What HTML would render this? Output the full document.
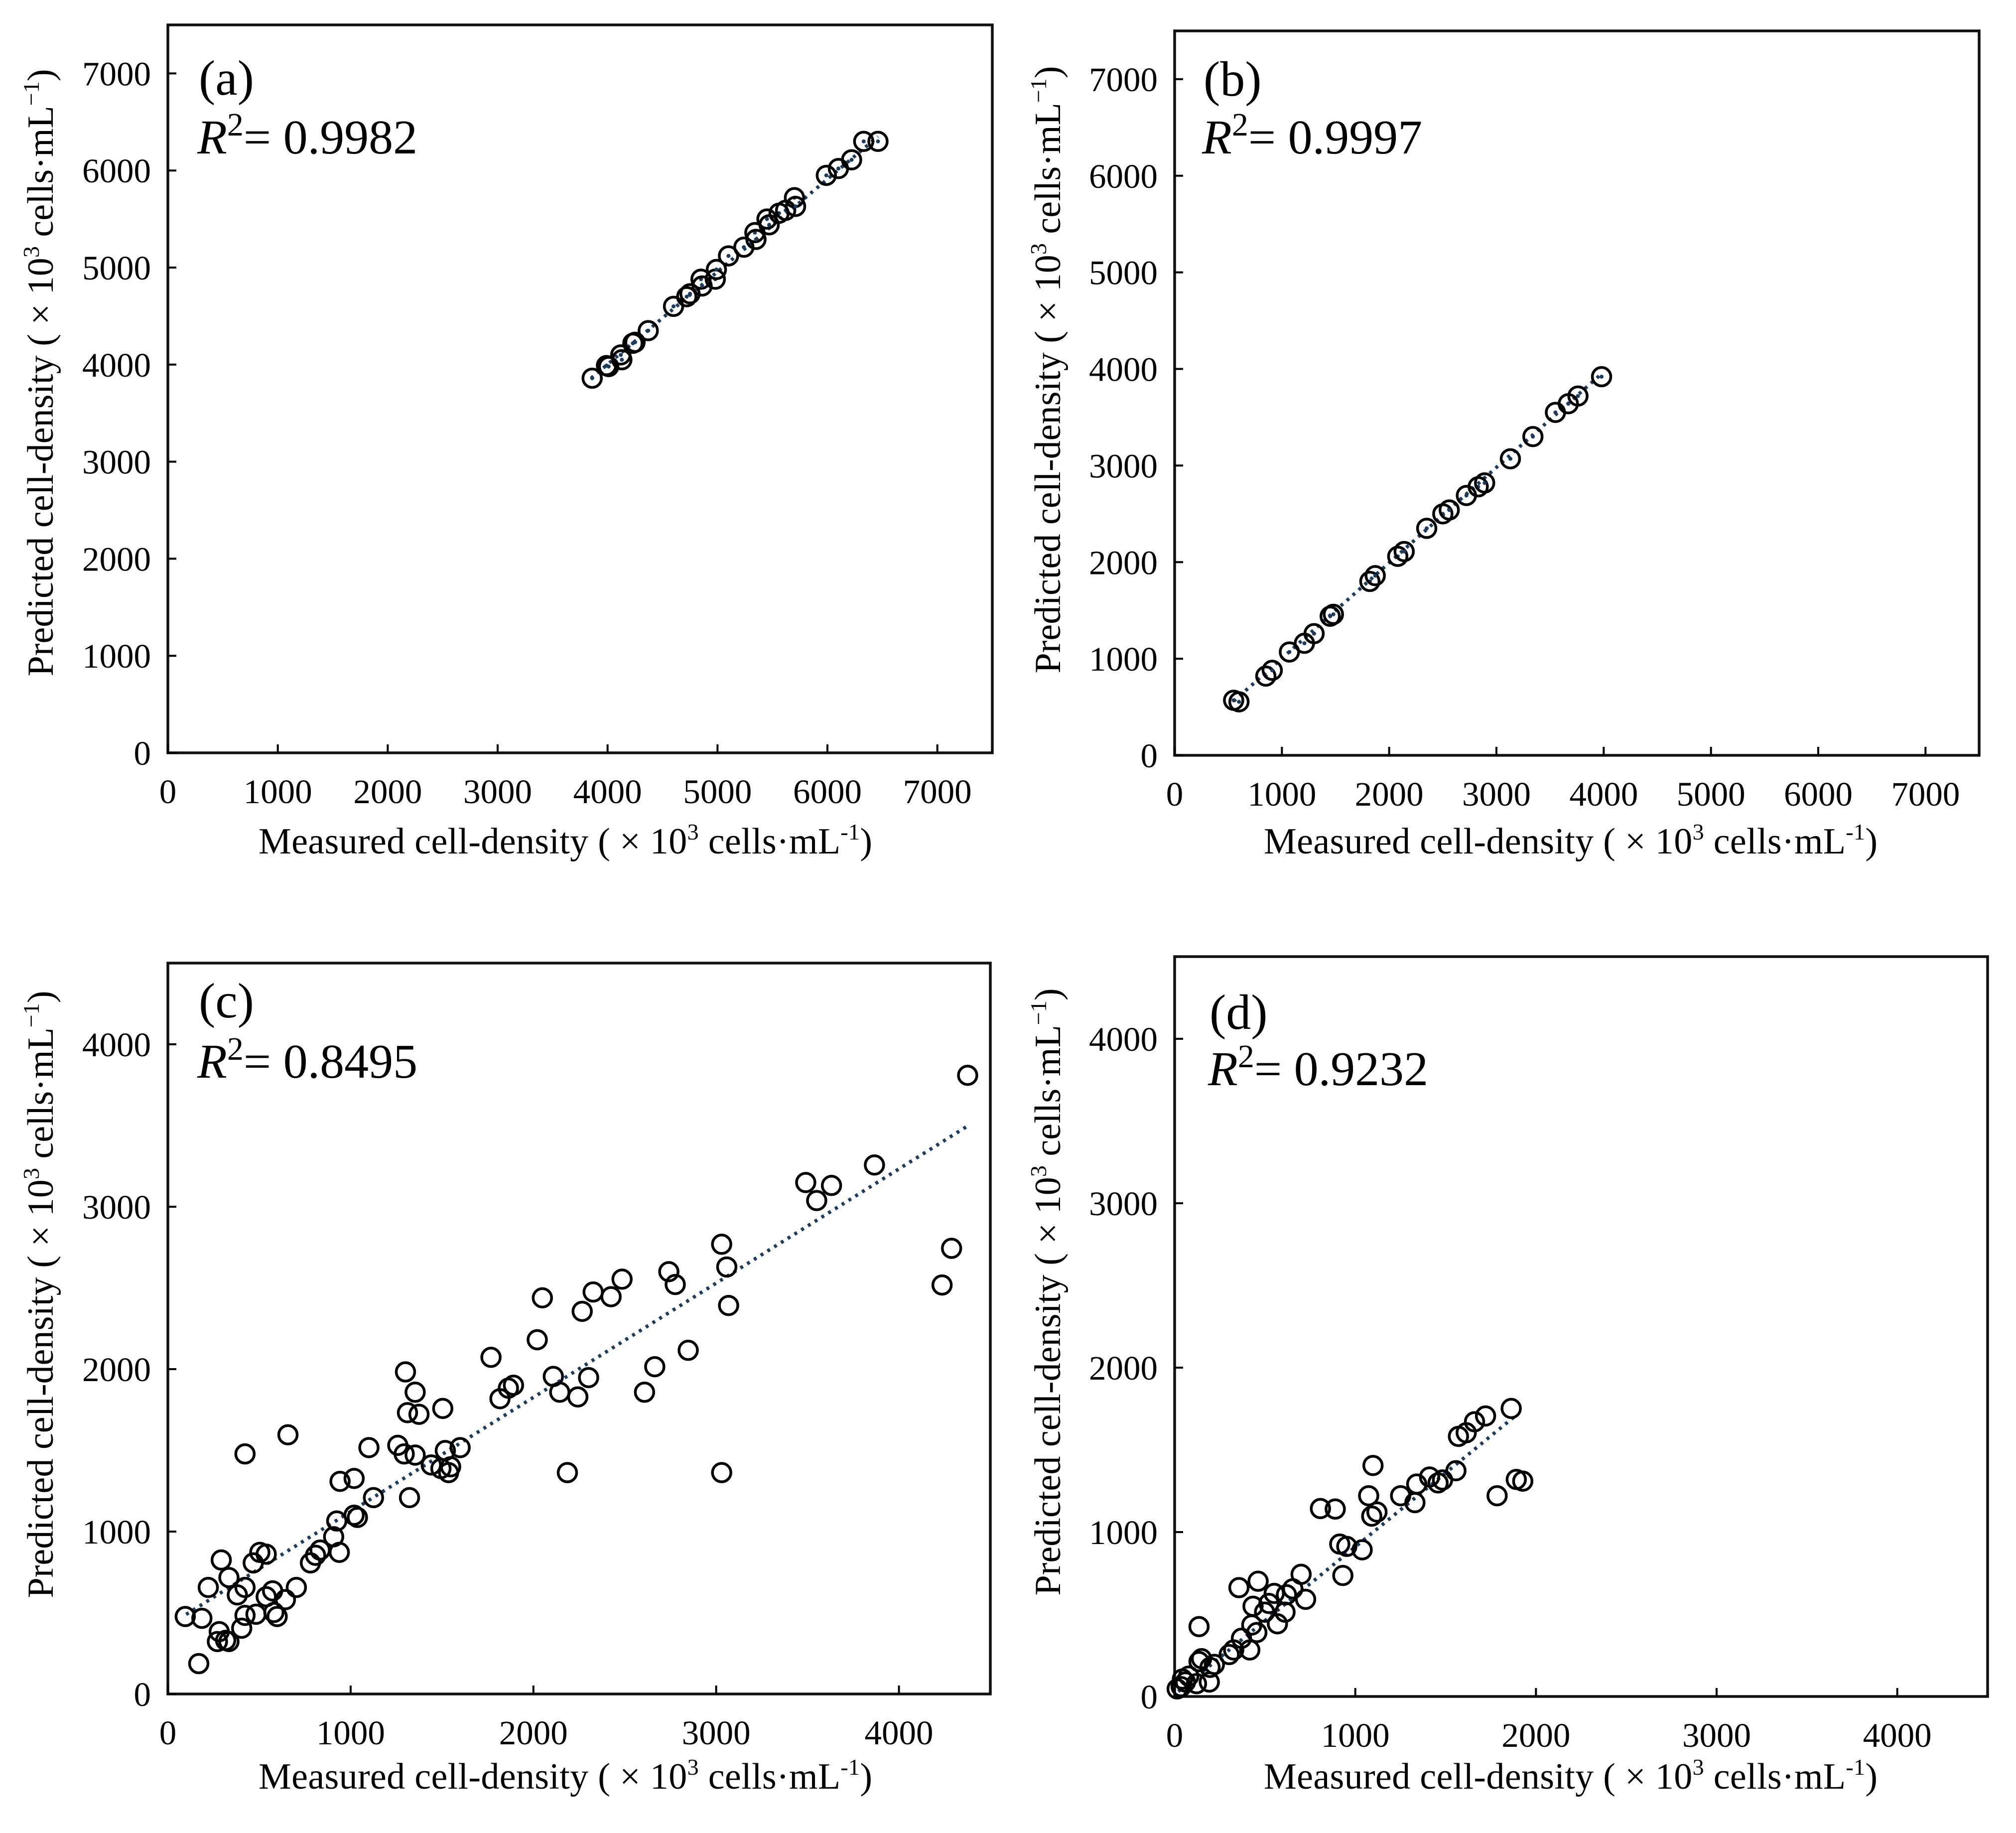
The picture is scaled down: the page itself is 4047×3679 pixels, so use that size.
<!DOCTYPE html>
<html><head><meta charset="utf-8">
<style>
html,body{margin:0;padding:0;background:#fff;}
svg{display:block;}
text{font-family:"Liberation Serif","Noto Serif CJK SC",serif;fill:#000;}
</style></head>
<body>
<svg id="fig" width="4047" height="3679" viewBox="0 0 4047 3679" xmlns="http://www.w3.org/2000/svg"></svg>
<script>
// ---------- data ----------
const aMeasured = [3860,3990,4010,4120,4130,4230,4250,4370,4600,4720,4750,4850,4860,4980,4990,5100,5240,5340,5350,5450,5470,5560,5620,5700,5710,5990,6100,6220,6330,6460];
const aPredicted = [3860,3990,3980,4100,4050,4220,4230,4350,4600,4700,4730,4880,4810,4880,4980,5120,5210,5360,5290,5500,5440,5560,5590,5720,5630,5950,6020,6110,6300,6300];
const aTrendX = [3850,6460];
const aTrendY = [3860,6350];

const bMeasured = [550,600,850,910,1070,1210,1300,1450,1480,1820,1870,2080,2140,2350,2500,2560,2720,2830,2890,3130,3340,3550,3670,3760,3980];
const bPredicted = [570,554,820,880,1070,1160,1260,1440,1460,1800,1860,2060,2110,2350,2500,2540,2690,2780,2820,3070,3300,3550,3640,3720,3920];
const bTrendX = [550,3980];
const bTrendY = [560,3950];

const cMeasured = [95,186,169,221,281,271,292,316,334,334,380,404,422,422,422,482,467,503,538,538,573,580,598,643,657,703,780,808,833,907,924,938,942,1019,1019,1037,1100,1125,1258,1293,1300,1311,1322,1353,1353,1374,1441,1494,1504,1518,1536,1547,1599,1768,1817,1863,1891,2021,2049,2109,2144,2186,2243,2267,2302,2327,2425,2485,2608,2664,2741,2776,2847,3030,3030,3058,3068,3490,3550,3631,3866,4236,4288,4376];
const cPredicted = [477,466,187,656,384,323,825,330,323,717,610,405,656,484,1478,491,807,872,861,599,635,502,477,581,1596,656,807,854,886,968,1065,872,1309,1327,1101,1087,1517,1209,1531,1478,1983,1732,1209,1471,1858,1722,1410,1388,1758,1499,1363,1399,1517,2073,1818,1883,1901,2181,2439,1955,1858,1363,1829,2356,1948,2475,2446,2554,1858,2015,2600,2521,2116,2769,1363,2629,2392,3149,3038,3131,3257,2518,2744,3809];
const cTrendX = [100,4380];
const cTrendY = [490,3500];

const dMeasured = [14,36,43,60,78,121,135,135,149,192,196,220,302,327,356,370,416,427,434,455,462,498,522,551,569,611,619,654,700,725,914,931,953,1038,807,889,1074,1098,1091,1120,1251,1330,1340,1411,1458,1483,1557,1571,1614,1660,1721,1785,1863,1891,1927];
const dPredicted = [46,60,106,88,124,78,425,212,230,88,177,195,255,283,662,354,283,435,549,389,701,513,566,627,442,513,619,655,743,591,927,736,913,892,1143,1140,1221,1405,1097,1122,1221,1179,1292,1335,1299,1317,1373,1582,1604,1671,1706,1221,1752,1320,1310];
const dTrendX = [20,1890];
const dTrendY = [30,1710];

const ticks7500 = [0,1000,2000,3000,4000,5000,6000,7000];
const ticks4500 = [0,1000,2000,3000,4000];

// ---------- drawing ----------
const NS = "http://www.w3.org/2000/svg";
const svg = document.getElementById("fig");
function mk(tag, attrs, parent){
  const e = document.createElementNS(NS, tag);
  for (const k in attrs) e.setAttribute(k, attrs[k]);
  (parent||svg).appendChild(e);
  return e;
}

const panels = [
  {id:"a", L:337, R:1992, T:50, B:1511, max:7500, ticks:ticks7500, xs:aMeasured, ys:aPredicted, tx:aTrendX, ty:aTrendY, r2:"0.9982", labY:190, r2Y:308, labX:399, yTitleX:106, yTitleC:748, xTitleY:1713, xTitleL:519, dots:true},
  {id:"b", L:2358, R:3973, T:62, B:1516, max:7500, ticks:ticks7500, xs:bMeasured, ys:bPredicted, tx:bTrendX, ty:bTrendY, r2:"0.9997", labY:192, r2Y:308, labX:2416, yTitleX:2128, yTitleC:742, xTitleY:1713, xTitleL:2537, dots:true},
  {id:"c", L:337, R:1988, T:1933, B:3400, max:4500, ticks:ticks4500, xs:cMeasured, ys:cPredicted, tx:cTrendX, ty:cTrendY, r2:"0.8495", labY:2042, r2Y:2163, labX:399, yTitleX:106, yTitleC:2598, xTitleY:3590, xTitleL:519, dots:false},
  {id:"d", L:2358, R:3990, T:1920, B:3405, max:4500, ticks:ticks4500, xs:dMeasured, ys:dPredicted, tx:dTrendX, ty:dTrendY, r2:"0.9232", labY:2065, r2Y:2178, labX:2428, yTitleX:2128, yTitleC:2593, xTitleY:3590, xTitleL:2537, dots:false}
];

panels.forEach(p => {
  const g = mk("g", {});
  
  
  const sx = v => p.L + (p.R - p.L) * v / p.max;
  const sy = v => p.B - (p.B - p.T) * v / p.max;

  const frame = mk("rect", {x:p.L, y:p.T, width:p.R-p.L, height:p.B-p.T, fill:"none", stroke:"#111", "stroke-width":5.5}, g);
  
  

  p.ticks.forEach(t => {
    const xt = mk("line", {x1:sx(t), x2:sx(t), y1:p.B, y2:p.B-17, stroke:"#000", "stroke-width":4}, g);
    
    
    const yt = mk("line", {x1:p.L, x2:p.L+17, y1:sy(t), y2:sy(t), stroke:"#000", "stroke-width":4}, g);
    
    
    const xl = mk("text", {x:sx(t), y:p.B+101, "font-size":69, "text-anchor":"middle"}, g);
    xl.textContent = t;
    
    
    const yl = mk("text", {x:p.L-34, y:sy(t)+24, "font-size":69, "text-anchor":"end"}, g);
    yl.textContent = t;
    
    
  });

  const tl = mk("line", {x1:sx(p.tx[0]), y1:sy(p.ty[0]), x2:sx(p.tx[1]), y2:sy(p.ty[1]), stroke:"#1f3b5c", "stroke-width":7, "stroke-dasharray":"6 10"}, g);
  
  

  for (let i = 0; i < p.xs.length; i++) {
    const c = mk("circle", {cx:sx(p.xs[i]), cy:sy(p.ys[i]), r:18.5, fill:"none", stroke:"#000", "stroke-width":5.5}, g);
    
    
    if (p.dots) {
      const d = mk("circle", {cx:sx(p.xs[i]), cy:sy(p.ys[i]), r:4, fill:"#1f3b5c"}, g);
      
      
    }
  }

  const lab = mk("text", {x:p.labX, y:p.labY, "font-size":100}, g);
  lab.textContent = "(" + p.id + ")";
  
  

  const r2 = mk("text", {x:p.labX-3, y:p.r2Y, "font-size":98}, g);
  
  
  const t1 = mk("tspan", {"font-style":"italic"}, r2); t1.textContent = "R";
  const t2 = mk("tspan", {"font-size":66, dy:-36}, r2); t2.textContent = "2";
  const t3 = mk("tspan", {dy:36}, r2); t3.textContent = "= " + p.r2;

  const xt = mk("text", {x:p.xTitleL, y:p.xTitleY, "font-size":74, textLength:1232, lengthAdjust:"spacing"}, g);
  
  
  const a1 = mk("tspan", {}, xt); a1.textContent = "Measured cell-density  ( × 10";
  const a2 = mk("tspan", {"font-size":46, dy:-28}, xt); a2.textContent = "3";
  const a3 = mk("tspan", {dy:28}, xt); a3.textContent = " cells·mL";
  const a4 = mk("tspan", {"font-size":46, dy:-28}, xt); a4.textContent = "-1";
  const a5 = mk("tspan", {dy:28}, xt); a5.textContent = ")";

  const yt = mk("text", {x:0, y:0, "font-size":74, "text-anchor":"middle", textLength:1219, lengthAdjust:"spacing", transform:"translate(" + p.yTitleX + "," + p.yTitleC + ") rotate(-90)"}, g);
  
  
  const b1 = mk("tspan", {}, yt); b1.textContent = "Predicted cell-density  ( × 10";
  const b2 = mk("tspan", {"font-size":46, dy:-28}, yt); b2.textContent = "3";
  const b3 = mk("tspan", {dy:28}, yt); b3.textContent = " cells·mL";
  const b4 = mk("tspan", {"font-size":46, dy:-28}, yt); b4.textContent = "−1";
  const b5 = mk("tspan", {dy:28}, yt); b5.textContent = ")";
});
</script>
</body></html>
